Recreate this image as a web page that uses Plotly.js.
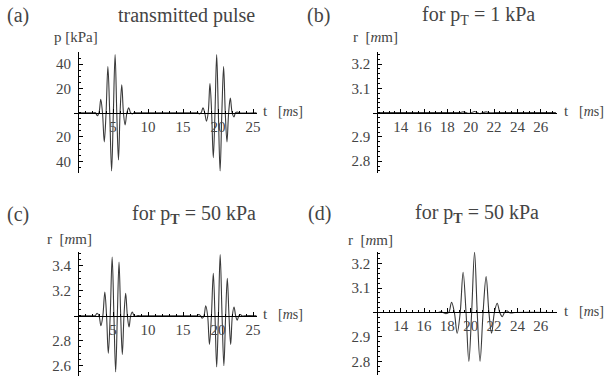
<!DOCTYPE html>
<html><head><meta charset="utf-8">
<script src="https://cdn.plot.ly/plotly-3.0.1.min.js"></script>
<style>html,body{margin:0;padding:0;background:#fff}#plot{width:608px;height:376px}
#plot svg text, #plot svg tspan{font-family:'Liberation Serif', serif !important;}</style>
</head><body><div id="plot"></div>
<script>
// ---------- data ----------
// (a) transmitted pulse p [kPa] vs t
const tA = [0, 2.3, 2.5, 2.75, 3.0, 3.25, 3.5, 3.75, 4.01, 4.27, 4.53, 4.8, 5.05, 5.3, 5.54, 5.78, 6.01, 6.25, 6.49, 6.73, 6.99, 7.25, 7.5, 7.75, 8.0, 8.3,
            17.0, 17.1, 17.35, 17.6, 17.85, 18.1, 18.35, 18.6, 18.85, 19.09, 19.33, 19.57, 19.81, 20.05, 20.3, 20.55, 20.8, 21.04, 21.28, 21.52, 21.76, 22.02, 22.28, 22.5, 22.75, 23.0, 25.5];
const pA = [0, 0, 0, -2.5, 0, 11, 0, -24, 0, 38, 0, -48, 0, 48, 0, -39, 0, 23, 0, -10, 0, 4, 0, -1, 0, 0,
            0, 0, -1, 0, 4, 0, -7, 0, 24, 0, -37, 0, 48, 0, -48, 0, 38, 0, -24, 0, 12, 0, -3.5, 0, 0.5, 0, 0];
// (b) r for pT = 1 kPa
const tB = [12, 19.0, 19.1, 19.35, 19.6, 19.84, 20.08, 20.33, 20.57, 20.8, 21.06, 21.32, 21.56, 21.8, 22.1, 27.3];
const rB = [3, 3, 3, 3.003, 3, 2.997, 3, 3.005, 3, 2.996, 3, 3.003, 3, 2.999, 3, 3];
// (c) r for pT = 50 kPa (long window)
const tC = [0, 2.2, 2.45, 2.72, 3.0, 3.27, 3.55, 3.83, 4.08, 4.33, 4.6, 4.88, 5.13, 5.38, 5.62, 5.86, 6.1, 6.33, 6.57, 6.81, 7.05, 7.29, 7.53, 7.76, 8.0, 8.2, 8.45, 8.8,
            17.0, 17.05, 17.25, 17.5, 17.75, 18.0, 18.25, 18.52, 18.78, 19.06, 19.33, 19.57, 19.81, 20.06, 20.31, 20.58, 20.84, 21.09, 21.33, 21.57, 21.81, 22.05, 22.29, 22.52, 22.75, 22.98, 23.2, 23.4, 23.6, 23.9, 25.5];
const rC = [3, 3, 3, 3.02, 3, 2.92, 3, 3.19, 3, 2.70, 3, 3.47, 3, 2.55, 3, 3.43, 3, 2.69, 3, 3.18, 3, 2.91, 3, 3.03, 3, 2.995, 3, 3,
            3, 3, 3.01, 3, 2.98, 3, 3.08, 3, 2.77, 3, 3.34, 3, 2.59, 3, 3.49, 3, 2.60, 3, 3.30, 3, 2.77, 3, 3.07, 3, 2.965, 3, 3.01, 3, 2.998, 3, 3];
// (d) r for pT = 50 kPa (zoomed window)
const tD = [12, 17.1, 17.2, 17.4, 17.64, 17.88, 18.12, 18.36, 18.6, 18.84, 19.1, 19.35, 19.6, 19.84, 20.08, 20.33, 20.56, 20.8, 21.06, 21.32, 21.56, 21.79, 22.03, 22.27, 22.49, 22.7, 22.9, 23.1, 23.3, 23.5, 23.8, 27.3];
const rD = [3, 3, 3, 3.003, 3, 2.995, 3, 3.042, 3, 2.915, 3, 3.165, 3, 2.80, 3, 3.247, 3, 2.80, 3, 3.147, 3, 2.915, 3, 3.038, 3, 2.983, 3, 3.007, 3, 2.998, 3, 3];

// tick labels
const xTicksLong = [5, 10, 15, 20, 25];
const xTicksShort = [14, 16, 18, 20, 22, 24, 26];
const yTicksA = [-40, -20, 20, 40];
const yTextA = ['40', '20', '20', '40'];
const yTicksC = [2.6, 2.8, 3.2, 3.4];
const yTextC = ['2.6', '2.8', '3.2', '3.4'];
const yTicksBD = [2.8, 2.9, 3.1, 3.2];
const yTextBD = ['2.8', '2.9', '3.1', '3.2'];

// ---------- layout geometry ----------
const W = 608, H = 376;
const fx = px => px / W;
const fy = py => 1 - py / H;
const SERIF = 'Liberation Serif';

const panels = [
  {n:'', t:tA, y:pA, xd:[73.8,257.2], xr:[-0.6,25.6], yd:[173.4,52], yr:[-50,50], x0:0, y0:0,
   xt:xTicksLong, yt:yTicksA, ytx:yTextA, xminor:1, yminor:5},
  {n:'2', t:tB, y:rB, xd:[372.7,556.7], xr:[11.6,27.37], yd:[173.3,52], yr:[2.75,3.25], x0:12, y0:3,
   xt:xTicksShort, yt:yTicksBD, ytx:yTextBD, xminor:0.5, yminor:0.02},
  {n:'3', t:tC, y:rC, xd:[73.8,257.2], xr:[-0.6,25.6], yd:[375.7,251.7], yr:[2.52,3.512], x0:0, y0:3,
   xt:xTicksLong, yt:yTicksC, ytx:yTextC, xminor:1, yminor:0.05},
  {n:'4', t:tD, y:rD, xd:[372.7,556.7], xr:[11.6,27.37], yd:[374.7,251.7], yr:[2.745,3.249], x0:12, y0:3,
   xt:xTicksShort, yt:yTicksBD, ytx:yTextBD, xminor:0.5, yminor:0.02}
];

const data = [];
const layout = {
  width: W, height: H, margin: {l:0, r:0, t:0, b:0},
  paper_bgcolor: '#fff', plot_bgcolor: '#fff',
  showlegend: false, font: {family: SERIF, size: 15},
  annotations: []
};

panels.forEach(p => {
  data.push({x: p.t, y: p.y, type: 'scatter', mode: 'lines',
    line: {color: '#3a3a3a', width: 1.1, shape: 'spline', smoothing: 1},
    xaxis: 'x' + p.n, yaxis: 'y' + p.n});
  const xdom = [fx(p.xd[0]), fx(p.xd[1])];
  const ydom = [fy(p.yd[0]), fy(p.yd[1])];
  const xpos = ydom[0] + (p.y0 - p.yr[0]) / (p.yr[1] - p.yr[0]) * (ydom[1] - ydom[0]);
  const ypos = xdom[0] + (p.x0 - p.xr[0]) / (p.xr[1] - p.xr[0]) * (xdom[1] - xdom[0]);
  layout['xaxis' + p.n] = {
    domain: xdom, range: p.xr, anchor: 'free', position: xpos,
    showgrid: false, zeroline: false, showline: true, linecolor: '#000', linewidth: 1,
    tickmode: 'array', tickvals: p.xt, ticks: 'inside', ticklen: 4, tickcolor: '#000',
    tickfont: {family: SERIF, size: 15},
    minor: {dtick: p.xminor, tick0: 0, ticks: 'inside', ticklen: 2, tickcolor: '#000'}
  };
  layout['yaxis' + p.n] = {
    domain: ydom, range: p.yr, anchor: 'free', position: ypos,
    showgrid: false, zeroline: false, showline: true, linecolor: '#000', linewidth: 1,
    tickmode: 'array', tickvals: p.yt, ticktext: p.ytx, ticks: 'inside', ticklen: 4, tickcolor: '#000',
    ticklabelstandoff: 4,
    tickfont: {family: SERIF, size: 15},
    minor: {dtick: p.yminor, tick0: p.y0, ticks: 'inside', ticklen: 2, tickcolor: '#000'}
  };
});

function ann(text, x, y, size, xanchor) {
  layout.annotations.push({text: text, xref: 'paper', yref: 'paper', x: fx(x), y: fy(y),
    xanchor: xanchor || 'left', yanchor: 'middle', showarrow: false,
    font: {family: SERIF, size: size}});
}
// panel labels and titles
ann('(a)', 5, 16, 20);
ann('transmitted pulse', 186, 16, 20, 'center');
ann('(b)', 305, 16, 20);
ann('for p<sub>T</sub> = 1 kPa', 478, 16, 20, 'center');
ann('(c)', 5, 214, 20);
ann('for p<sub><b>T</b></sub> = 50 kPa', 194, 214, 20, 'center');
ann('(d)', 306, 213, 20);
ann('for p<sub><b>T</b></sub> = 50 kPa', 477, 213, 20, 'center');
// axis labels
ann('p [kPa]', 52, 37, 15);
ann('r  [<i>m</i>m]', 351, 37, 15);
ann('r  [<i>m</i>m]', 45, 239, 15);
ann('r  [<i>m</i>m]', 346, 240, 15);
ann('t', 261, 111, 15); ann('[<i>m</i>s]', 276, 111, 14);
ann('t', 562, 111, 15); ann('[<i>m</i>s]', 577, 111, 14);
ann('t', 261, 314, 15); ann('[<i>m</i>s]', 276, 314, 14);
ann('t', 562, 311, 15); ann('[<i>m</i>s]', 577, 311, 14);

Plotly.newPlot('plot', data, layout, {staticPlot: true});
</script>
</body></html>
